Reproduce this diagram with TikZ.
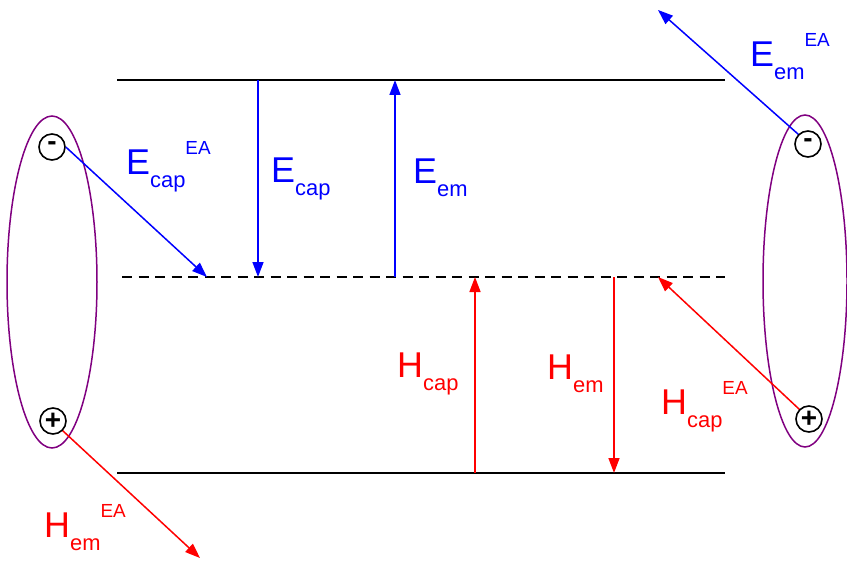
\documentclass[tikz,border=0pt]{standalone}
\usepackage{fontspec}
\setmainfont{Liberation Sans}
\usetikzlibrary{arrows.meta,positioning}
\definecolor{ElecBlue}{RGB}{0,0,255}
\definecolor{HoleRed}{RGB}{255,0,0}
\definecolor{TrapPurple}{RGB}{128,0,128}
% rate label: big letter, subscript, superscript
\newcommand{\ratelbl}[3]{\fontsize{36}{36}\selectfont #1\raisebox{-13bp}{\fontsize{22}{22}\selectfont #2}\raisebox{20bp}{\fontsize{19}{19}\selectfont #3}}

\begin{document}
\begin{tikzpicture}[x=1bp, y=-1bp,
    band/.style={line width=2bp, black},
    trapline/.style={line width=2bp, black, dash pattern=on 10bp off 6.5bp},
    charge/.style={circle, draw=black, line width=1.6bp, fill=white, minimum size=26bp, inner sep=0pt, font=\fontsize{28}{28}\selectfont\bfseries},
    earr/.style={-{Triangle[length=15bp,width=11bp]}, line width=1.5bp, ElecBlue},
    harr/.style={-{Triangle[length=15bp,width=11bp]}, line width=1.5bp, HoleRed},
    lbl/.style={anchor=base west, inner sep=0pt}
  ]
  \useasboundingbox (0,0) rectangle (847,563);
  % bands
  \coordinate (cbL) at (117,80);   \coordinate (cbR) at (725,80);
  \coordinate (tL) at (122,277);   \coordinate (tR) at (725,277);
  \coordinate (vbL) at (117,473);  \coordinate (vbR) at (725,473);
  \draw[band] (cbL) -- (cbR);
  \draw[trapline] (tL) -- (tR);
  \draw[band] (vbL) -- (vbR);

  % electrodes
  \draw[TrapPurple, line width=1.5bp] (52,282) ellipse [x radius=45, y radius=166];
  \draw[TrapPurple, line width=1.5bp] (805,281) ellipse [x radius=42, y radius=166];
  \node[charge] (lm) at (52,147) {\raisebox{2bp}{-}};
  \node[charge] (lp) at (53,421) {+};
  \node[charge] (rm) at (808,144) {\raisebox{2bp}{-}};
  \node[charge] (rp) at (809,419) {+};

  % band to trap transitions
  \coordinate (ecapT) at (258,80);  \coordinate (ecapB) at (258,277);
  \coordinate (eemB) at (395,277);  \coordinate (eemT) at (395,80);
  \coordinate (hcapB) at (475,473); \coordinate (hcapT) at (475,277);
  \coordinate (hemT) at (614,277);  \coordinate (hemB) at (614,473);
  \draw[earr] (ecapT) -- (ecapB);
  \draw[earr] (eemB) -- (eemT);
  \draw[harr] (hcapB) -- (hcapT);
  \draw[harr] (hemT) -- (hemB);

  % electrode exchange
  \coordinate (ecapEA) at (207,277);
  \coordinate (eemEA) at (658,10);
  \coordinate (hemEA) at (200,558);
  \coordinate (hcapEA) at (658,277);
  \draw[earr] (lm.east) -- (ecapEA);
  \draw[earr] (rm.north west) -- (eemEA);
  \draw[harr] (lp.south east) -- (hemEA);
  \draw[harr] (rp.north west) -- (hcapEA);

  % labels
  \node[lbl, ElecBlue] (lecapEA) at (126,175) {\ratelbl{E}{cap}{EA}};
  \node[lbl, ElecBlue] (lecap) at (271,183) {\ratelbl{E}{cap}{}};
  \node[lbl, ElecBlue] (leem) at (413,184) {\ratelbl{E}{em}{}};
  \node[lbl, ElecBlue] (leemEA) at (750,67) {\ratelbl{E}{em}{EA}};
  \node[lbl, HoleRed] (lhcap) at (397,377) {\ratelbl{H}{cap}{}};
  \node[lbl, HoleRed] (lhem) at (547,379) {\ratelbl{H}{em}{}};
  \node[lbl, HoleRed] (lhcapEA) at (661,414) {\ratelbl{H}{cap}{EA}};
  \node[lbl, HoleRed] (lhemEA) at (44,537) {\ratelbl{H}{em}{EA}};
\end{tikzpicture}
\end{document}
